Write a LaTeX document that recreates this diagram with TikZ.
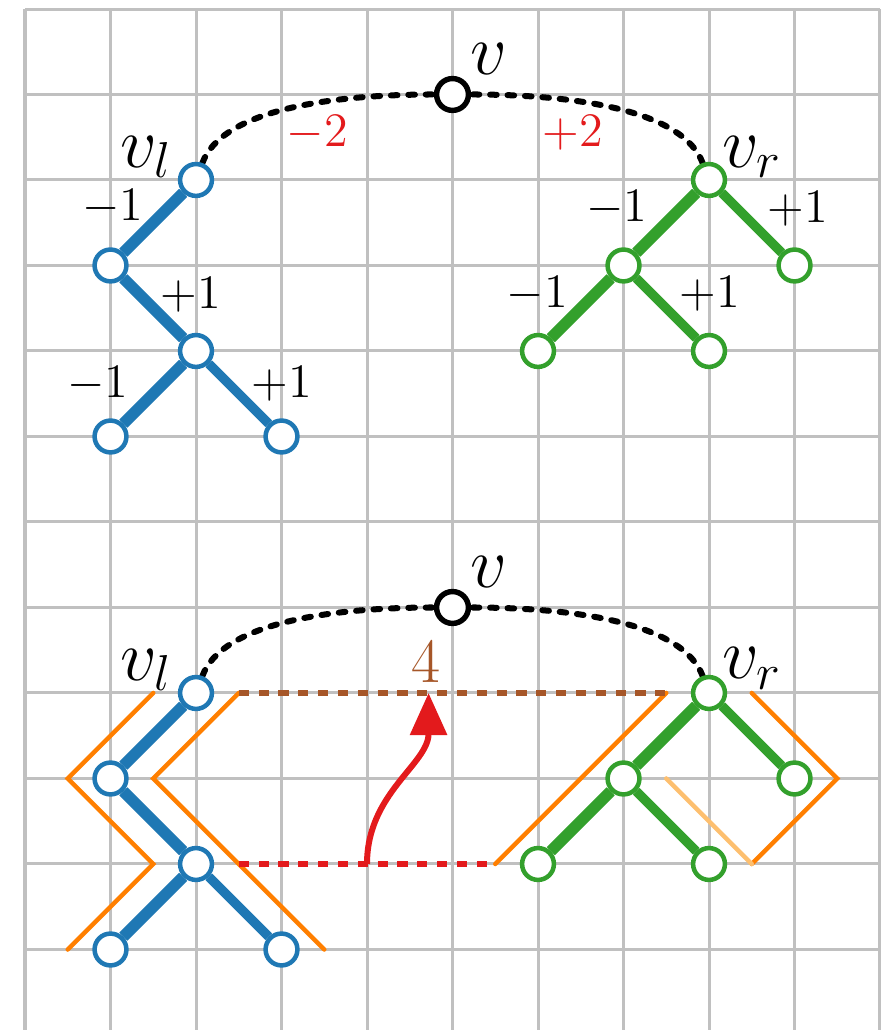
\RequirePackage{fix-cm}
\documentclass[tikz,border=0pt]{standalone}
\usetikzlibrary{arrows.meta}
\definecolor{cblue}{HTML}{1F78B4}
\definecolor{cgreen}{HTML}{33A02C}
\definecolor{corange}{HTML}{FF7F00}
\definecolor{clorange}{HTML}{FDBF6F}
\definecolor{cred}{HTML}{E31A1C}
\definecolor{cbrown}{HTML}{A65628}
\definecolor{cgrid}{HTML}{C0C0C0}
\pgfdeclarelayer{edgelayer}
\pgfsetlayers{edgelayer,main}
\begin{document}
\begin{tikzpicture}[x=1cm,y=1cm,
  gridline/.style={draw=cgrid,line width=1pt},
  tnode/.style={circle,fill=white,line width=1.5pt,minimum size=10.6pt,inner sep=0pt},
  bnode/.style={tnode,draw=cblue},
  gnode/.style={tnode,draw=cgreen},
  knode/.style={tnode,draw=black,line width=1.8pt},
  heavy/.style={line width=3.8pt},
  light/.style={line width=3.1pt},
  num/.style={font=\fontsize{16}{19}\selectfont,anchor=base,inner sep=0pt},
  vname/.style={font=\fontsize{24}{28}\selectfont,anchor=base,inner sep=0pt},
  arcdash/.style={black,line width=2pt,line cap=round,dash pattern=on 2.2pt off 3.6pt},
  hull/.style={corange,line width=1.5pt,line cap=round,line join=miter},
  lhull/.style={clorange,line width=1.5pt,line cap=round},
  levdash/.style={line width=2.2pt,dash pattern=on 3.4pt off 3.2pt},
  liftarrow/.style={cred,line width=2pt,-{Triangle[width=12pt,length=14pt]}}
]
\useasboundingbox (-0.2924,0.0585) rectangle (10,12.1053);
\clip (-0.2924,0.0585) rectangle (10,12.1053);
\begin{pgfonlayer}{edgelayer}
\draw[gridline] (0,0) grid (10,12);
\end{pgfonlayer}

% ---------------- top picture ----------------
\node[knode] (v) at (5,11) {};
\node[bnode] (vl) at (2,10) {};
\node[bnode] (b1) at (1,9) {};
\node[bnode] (b2) at (2,8) {};
\node[bnode] (b3) at (1,7) {};
\node[bnode] (b4) at (3,7) {};
\node[gnode] (vr) at (8,10) {};
\node[gnode] (g1) at (7,9) {};
\node[gnode] (g2) at (9,9) {};
\node[gnode] (g3) at (6,8) {};
\node[gnode] (g4) at (8,8) {};

\begin{pgfonlayer}{edgelayer}
\draw[arcdash] (vl) .. controls (2.3,10.8) and (3.5,11) .. (v);
\draw[arcdash] (vr) .. controls (7.7,10.8) and (6.5,11) .. (v);
\draw[cblue,heavy] (vl) -- (b1);
\draw[cblue,heavy] (b1) -- (b2);
\draw[cblue,heavy] (b2) -- (b3);
\draw[cblue,light] (b2) -- (b4);
\draw[cgreen,heavy] (vr) -- (g1);
\draw[cgreen,light] (vr) -- (g2);
\draw[cgreen,heavy] (g1) -- (g3);
\draw[cgreen,light] (g1) -- (g4);
\end{pgfonlayer}

\node[vname] (tv) at (5.43,11.23) {$v$};
\node[vname] (tvl) at (1.42,10.15) {$v_l$};
\node[vname] (tvr) at (8.50,10.15) {$v_r$};
\node[num,cred] (tm2) at (3.42,10.39) {$-2$};
\node[num,cred] (tp2) at (6.41,10.39) {$+2$};
\node[num] (tb1) at (1.03,9.53) {$-1$};
\node[num] (tb2) at (1.94,8.50) {$+1$};
\node[num] (tb3) at (0.85,7.46) {$-1$};
\node[num] (tb4) at (3.00,7.46) {$+1$};
\node[num] (tg1) at (6.92,9.51) {$-1$};
\node[num] (tg2) at (9.04,9.50) {$+1$};
\node[num] (tg3) at (5.99,8.51) {$-1$};
\node[num] (tg4) at (8.01,8.51) {$+1$};

% ---------------- bottom picture ----------------
\coordinate (h1) at (1.5,4); \coordinate (h2) at (0.5,3);
\coordinate (h3) at (1.5,2); \coordinate (h4) at (0.5,1);
\coordinate (h5) at (2.5,4); \coordinate (h6) at (1.5,3);
\coordinate (h7) at (3.5,1);
\coordinate (h8) at (5.5,2); \coordinate (h9) at (7.5,4);
\coordinate (h10) at (8.5,4); \coordinate (h11) at (9.5,3);
\coordinate (h12) at (8.5,2);
\coordinate (h13) at (7.5,3); \coordinate (h14) at (8.5,2);
\coordinate (br0) at (2.5,4); \coordinate (br1) at (7.5,4);
\coordinate (rd0) at (2.5,2); \coordinate (rd1) at (5.5,2);
\coordinate (a0) at (4,2); \coordinate (a1) at (4.72,4);

\node[knode] (w) at (5,5) {};
\node[bnode] (wl) at (2,4) {};
\node[bnode] (c1) at (1,3) {};
\node[bnode] (c2) at (2,2) {};
\node[bnode] (c3) at (1,1) {};
\node[bnode] (c4) at (3,1) {};
\node[gnode] (wr) at (8,4) {};
\node[gnode] (d1) at (7,3) {};
\node[gnode] (d2) at (9,3) {};
\node[gnode] (d3) at (6,2) {};
\node[gnode] (d4) at (8,2) {};

\begin{pgfonlayer}{edgelayer}
\draw[hull] (h1) -- (h2) -- (h3) -- (h4);
\draw[hull] (h5) -- (h6) -- (h7);
\draw[hull] (h8) -- (h9);
\draw[hull] (h10) -- (h11) -- (h12);
\draw[lhull] (h13) -- (h14);
\draw[levdash,cbrown] (br0) -- (br1);
\draw[levdash,cred] (rd0) -- (rd1);
\draw[arcdash] (wl) .. controls (2.3,4.8) and (3.5,5) .. (w);
\draw[arcdash] (wr) .. controls (7.7,4.8) and (6.5,5) .. (w);
\draw[cblue,heavy] (wl) -- (c1);
\draw[cblue,heavy] (c1) -- (c2);
\draw[cblue,heavy] (c2) -- (c3);
\draw[cblue,light] (c2) -- (c4);
\draw[cgreen,heavy] (wr) -- (d1);
\draw[cgreen,light] (wr) -- (d2);
\draw[cgreen,heavy] (d1) -- (d3);
\draw[cgreen,light] (d1) -- (d4);
\end{pgfonlayer}

\draw[liftarrow] (a0) to[out=90,in=-90] (a1);
\node[num,cbrown,font=\fontsize{21}{25}\selectfont] (four) at (4.69,4.12) {$4$};

\node[vname] (bv) at (5.43,5.23) {$v$};
\node[vname] (bvl) at (1.42,4.15) {$v_l$};
\node[vname] (bvr) at (8.50,4.17) {$v_r$};
\end{tikzpicture}
\end{document}
